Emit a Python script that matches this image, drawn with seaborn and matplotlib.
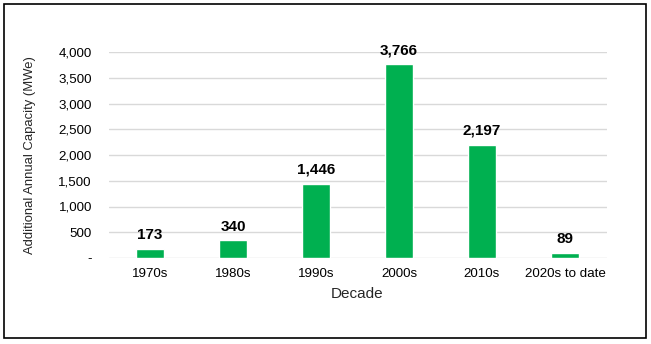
import matplotlib
matplotlib.use("Agg")
import matplotlib.pyplot as plt
import seaborn as sns
import pandas as pd
from matplotlib.patches import Rectangle

decades = ["1970s", "1980s", "1990s", "2000s", "2010s", "2020s to date"]
capacity = [173, 340, 1446, 3766, 2197, 89]
yticks = [0, 500, 1000, 1500, 2000, 2500, 3000, 3500, 4000]
ytick_labels = ["-", "500", "1,000", "1,500", "2,000", "2,500", "3,000", "3,500", "4,000"]

sns.set_theme(style="white")
plt.rcParams['font.family'] = ['Liberation Sans', 'DejaVu Sans']

df = pd.DataFrame({"Decade": decades, "Capacity": capacity})

fig = plt.figure(figsize=(6.51, 3.44), dpi=100)
ax = fig.add_axes([108.5/651, 1-258/344, (606.5-108.5)/651, (258-52)/344])

sns.barplot(data=df, x="Decade", y="Capacity", color="#00b050", width=0.33,
            saturation=1, ax=ax, zorder=3)

ax.set_ylim(0, 4000)
ax.set_yticks(yticks)
ax.set_yticklabels(ytick_labels)
ax.grid(axis="y", color="#d9d9d9", linewidth=1, zorder=0)
ax.set_axisbelow(True)
for s in ["top", "right", "left", "bottom"]:
    ax.spines[s].set_visible(False)
ax.tick_params(axis="y", length=0, labelsize=9.6, colors="black", pad=12)
ax.tick_params(axis="x", length=0, labelsize=9.6, colors="black", pad=7)

for i, v in enumerate(capacity):
    ax.annotate(f"{v:,}", (i, v), xytext=(0, 5), textcoords="offset points",
                ha="center", va="bottom", fontsize=11, fontweight="bold", color="black")

ax.set_xlabel("Decade", fontsize=11, labelpad=5)
ax.set_ylabel("Additional Annual Capacity (MWe)", fontsize=9.4, labelpad=16)

fig.patches.append(Rectangle((4/651, 1-338/344), 642/651, 334/344, transform=fig.transFigure,
                             fill=False, edgecolor="black", linewidth=1.2, zorder=10))

fig.savefig("out.png", dpi=100)
